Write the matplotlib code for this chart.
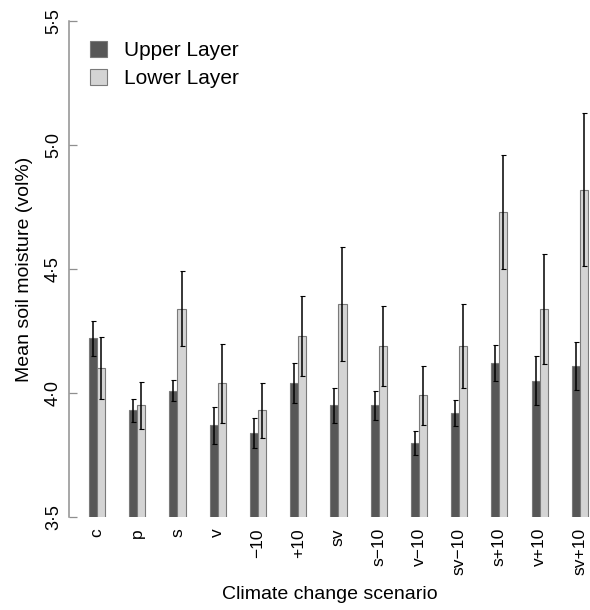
import numpy as np
import matplotlib
matplotlib.use("Agg")
import matplotlib.pyplot as plt
from matplotlib.patches import Patch

plt.rcParams['font.family'] = ['Liberation Sans', 'DejaVu Sans']

# mean soil moisture per scenario, with error bar half-widths
scenarios = ['c', 'p', 's', 'v', '\u221210', '+10', 'sv', 's\u221210',
             'v\u221210', 'sv\u221210', 's+10', 'v+10', 'sv+10']
upper_mean = [4.22, 3.93, 4.01, 3.87, 3.84, 4.04, 3.95, 3.95, 3.80, 3.92, 4.12, 4.05, 4.11]
upper_err = [0.070, 0.046, 0.044, 0.074, 0.060, 0.080, 0.072, 0.060, 0.048, 0.052, 0.073, 0.100, 0.097]
lower_mean = [4.10, 3.95, 4.34, 4.04, 3.93, 4.23, 4.36, 4.19, 3.99, 4.19, 4.73, 4.34, 4.82]
lower_err = [0.126, 0.095, 0.150, 0.159, 0.110, 0.160, 0.230, 0.162, 0.119, 0.168, 0.231, 0.222, 0.308]
ytick_vals = [3.5, 4.0, 4.5, 5.0, 5.5]
ytick_text = ['3\u00b75', '4\u00b70', '4\u00b75', '5\u00b70', '5\u00b75']

dark = '#575757'
light = '#d4d4d4'
edge = '#7a7a7a'
axis_grey = '#8f8f8f'

fig = plt.figure(figsize=(5.9, 6.1), dpi=100)
ax = fig.add_axes([69 / 590, 93 / 610, 521 / 590, 496 / 610])

x = np.arange(len(scenarios))
w = 0.2
err_kw = dict(ecolor='black', elinewidth=1.1, capsize=1.8, capthick=0.8)
ax.bar(x - w / 2, upper_mean, w, color=dark, edgecolor=edge,
       linewidth=0.8, yerr=upper_err, error_kw=err_kw)
ax.bar(x + w / 2, lower_mean, w, color=light, edgecolor=edge,
       linewidth=0.8, yerr=lower_err, error_kw=err_kw)

ax.set_xlim(-0.696, 12.25)
ax.set_ylim(3.5, 5.5)

for s in ['top', 'right', 'bottom']:
    ax.spines[s].set_visible(False)
ax.spines['left'].set_color(axis_grey)
ax.spines['left'].set_linewidth(1.1)

ax.set_yticks(ytick_vals)
ax.set_yticklabels(ytick_text, rotation=90, va='center')
ax.tick_params(axis='y', direction='in', length=6, width=0.9, color=axis_grey,
               pad=5, labelsize=13)
ax.set_xticks(x)
ax.set_xticklabels(scenarios, rotation=90, va='top')
ax.tick_params(axis='x', length=0, pad=8, labelsize=12.5)

ax.set_ylabel('Mean soil moisture (vol%)', fontsize=14, labelpad=9)
ax.set_xlabel('Climate change scenario', fontsize=14, labelpad=8)

handles = [Patch(facecolor=dark, edgecolor=edge, linewidth=0.8),
           Patch(facecolor=light, edgecolor=edge, linewidth=0.8)]
fig.legend(handles, ['Upper Layer', 'Lower Layer'], loc='upper left',
           bbox_to_anchor=(90 / 590, 1 - 41 / 610), frameon=False, fontsize=15,
           handlelength=0.8, handleheight=0.8, handletextpad=0.85,
           labelspacing=0.42, borderpad=0, borderaxespad=0)

fig.savefig('out.png', dpi=100)
